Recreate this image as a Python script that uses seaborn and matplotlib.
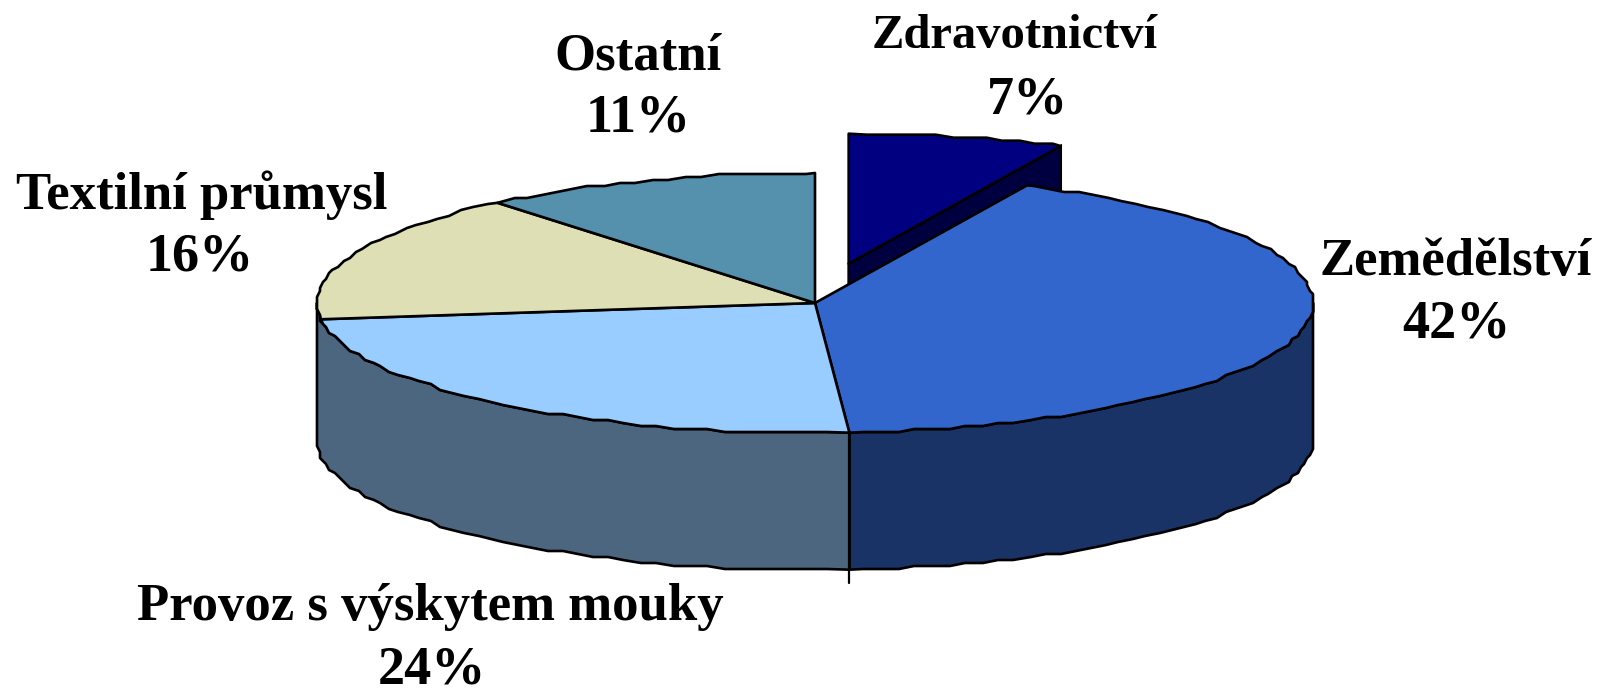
import numpy as np
import matplotlib
matplotlib.use('Agg')
import matplotlib.pyplot as plt
from matplotlib.path import Path
import seaborn as sns

# data
kategorie = ['Zdravotnictví', 'Zemědělství', 'Provoz s výskytem mouky', 'Textilní průmysl', 'Ostatní']
hodnoty = [7, 41.9, 24.1, 16, 11]
popisky = ['7%', '42%', '24%', '16%', '11%']

barvy = ['#000080', '#3366CC', '#99CCFF', '#DFDFB5', '#5590AD']
barvy_bok = ['#000040', '#1A3366', '#4D6680']

# pozice popisku v pixelech (stred x, uctari y)
pos_jmeno = [(1015, 48), (1456, 275), (430, 620), (202, 209), (638, 69)]
pos_proc = [(1028, 114), (1456, 338), (432, 684), (200, 271), (638, 132)]
vel_jmeno = [35, 38, 38, 38, 38]

W, H = 1612, 688
cx, cy = 815, 303      # stred kolace v pixelech
rx, ry = 498, 130      # poloosy elipsy
hloubka = 137 / ry     # vyska boku v jednotkach dat
vysun = 0.31
krok = 3               # hruba mrizka, puvodni obrazek ma zubate oblouky
t_mrizka = np.arange(0, 2 * np.pi, 0.035)

sns.set_theme(style='white')
plt.rcParams['font.family'] = ['Liberation Serif', 'DejaVu Serif']


def oblouk(t0, t1):
    # spolecne body pro vrch i bok, zaokrouhlene na mrizku
    t = t_mrizka[(t_mrizka > t0 + 0.01) & (t_mrizka < t1 - 0.01)]
    x = np.round(np.sin(t) * rx / krok) * krok / rx
    y = np.round(np.cos(t) * ry / krok) * krok / ry
    x = np.r_[np.sin(t0), x, np.sin(t1)]
    y = np.r_[np.cos(t0), y, np.cos(t1)]
    return x, y


fig = plt.figure(figsize=(W / 100, H / 100), dpi=100)
ax = fig.add_axes([0, 0, 1, 1])

explode = [vysun, 0, 0, 0, 0]
wedges, _ = ax.pie(hodnoty, colors=barvy, startangle=90, counterclock=False, explode=explode,
                   wedgeprops={'edgecolor': 'black', 'linewidth': 1.9, 'joinstyle': 'round', 'zorder': 3})

# osa tak, aby jednotkovy kruh byl sploštělá elipsa
ax.set_aspect('auto')
ax.set_xlim(-cx / rx, (W - cx) / rx)
ax.set_ylim((cy - H) / ry, cy / ry)
ax.axis('off')

# uhly hranic vysecí, po smeru hodin od 12 hodin
hranice = np.cumsum([0] + hodnoty) / sum(hodnoty) * 2 * np.pi

# vrchni plochy: obrys vysece nahradime zubatym
for w, t0, t1 in zip(wedges, hranice[:-1], hranice[1:]):
    x, y = oblouk(t0, t1)
    sx, sy = w.center
    w._path = Path(np.c_[np.r_[sx, x + sx, sx], np.r_[sy, y + sy, sy]], closed=True)


def bok(t0, t1, barva):
    x, y = oblouk(t0, t1)
    ax.fill(np.r_[x, x[::-1]], np.r_[y, y[::-1] - hloubka], facecolor=barva,
            edgecolor='black', linewidth=1.9, joinstyle='round', zorder=2)


# predni steny
bok(np.pi / 2, hranice[2], barvy_bok[1])
bok(hranice[2], 1.5 * np.pi, barvy_bok[2])

# svisla hrana mezi stenami presahuje kousek dolu
x_hrana = np.sin(hranice[2])
y_hrana = np.cos(hranice[2])
ax.plot([x_hrana, x_hrana], [y_hrana, y_hrana - hloubka - 0.1], color='black', lw=1.6, zorder=2.5)

# rez vysunute vysece
stred = (hranice[0] + hranice[1]) / 2
dx, dy = vysun * np.sin(stred), vysun * np.cos(stred)
xk, yk = np.sin(hranice[1]) + dx, np.cos(hranice[1]) + dy
ax.fill([dx, xk, xk, dx], [dy, yk, yk - hloubka, dy - hloubka], facecolor=barvy_bok[0],
        edgecolor='black', linewidth=1.9, zorder=1)

# popisky
for jmeno, proc, pj, pp, vel in zip(kategorie, popisky, pos_jmeno, pos_proc, vel_jmeno):
    fig.text(pj[0] / W, 1 - pj[1] / H, jmeno, ha='center', va='baseline',
             fontsize=vel, fontweight='bold', color='black')
    fig.text(pp[0] / W, 1 - pp[1] / H, proc, ha='center', va='baseline',
             fontsize=39, fontweight='bold', color='black')

fig.savefig('out.png', dpi=100, facecolor='white')
